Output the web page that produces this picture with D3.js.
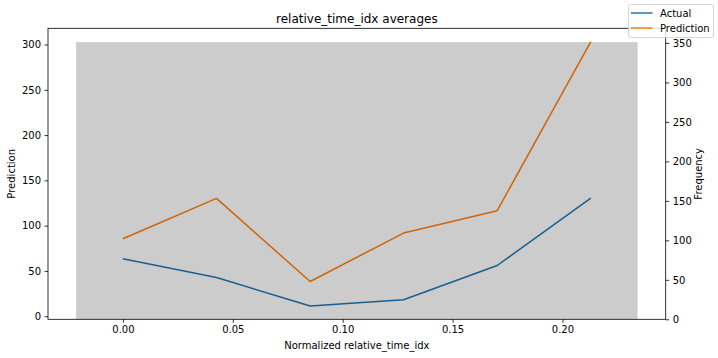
<!DOCTYPE html>
<html>
<head>
<meta charset="utf-8">
<script src="https://cdn.jsdelivr.net/npm/d3@7"></script>
<style>
  body { margin: 0; background: #fff; }
  text { font-family: "DejaVu Sans", sans-serif; fill: #000; }
</style>
</head>
<body>
<script>
// data
var xValues = [0, 0.0426, 0.0852, 0.1277, 0.1703, 0.2129];
var actual = [63.4, 42.8, 11.2, 18.1, 56.0, 130.5];
var prediction = [85.5, 130.1, 38.3, 91.8, 116.5, 303.3];
var binEdges = [-0.0213, 0.2342];
var frequency = [351];
var xTicks = [0, 0.05, 0.10, 0.15, 0.20];
var leftTicks = [0, 50, 100, 150, 200, 250, 300];
var rightTicks = [0, 50, 100, 150, 200, 250, 300, 350];
var seriesNames = ["Actual", "Prediction"];
var seriesColors = ["#1f77b4", "#ff7f0e"];

var W = 718, H = 358;
var margin = {top: 28.3, right: 52.3, bottom: 38.7, left: 48};

var svg = d3.select("body").append("svg")
  .attr("width", W)
  .attr("height", H);

// matplotlib style 5% padding
function pad(lo, hi) {
  var p = (hi - lo) * 0.05;
  return [lo - p, hi + p];
}

var x = d3.scaleLinear()
  .domain(pad(binEdges[0], binEdges[binEdges.length - 1]))
  .range([margin.left, W - margin.right]);

var allY = actual.concat(prediction);
var yLeft = d3.scaleLinear()
  .domain(pad(d3.min(allY), d3.max(allY)))
  .range([H - margin.bottom, margin.top]);

var yRight = d3.scaleLinear()
  .domain([0, d3.max(frequency) * 1.05])
  .range([H - margin.bottom, margin.top]);

var plot = svg.append("g");

// lines first (left axis)
var line = d3.line()
  .x(function (d, i) { return x(xValues[i]); })
  .y(function (d) { return yLeft(d); });

[actual, prediction].forEach(function (s, k) {
  plot.append("path")
    .datum(s)
    .attr("d", line)
    .attr("fill", "none")
    .attr("stroke", seriesColors[k])
    .attr("stroke-width", 1.5)
    .attr("stroke-linejoin", "round");
});

// histogram bar on twin axis, drawn on top with alpha
frequency.forEach(function (f, i) {
  plot.append("rect")
    .attr("x", x(binEdges[i]))
    .attr("y", yRight(f))
    .attr("width", x(binEdges[i + 1]) - x(binEdges[i]))
    .attr("height", yRight(0) - yRight(f))
    .attr("fill", "#000")
    .attr("fill-opacity", 0.2);
});

// axes
function styleAxis(g) {
  g.select(".domain").remove();
  g.selectAll(".tick line").attr("stroke", "#000").attr("stroke-width", 0.8);
  g.selectAll(".tick text").attr("font-size", 10).attr("fill", "#000")
    .style("font-family", "DejaVu Sans, sans-serif");
}

svg.append("g")
  .attr("transform", "translate(0," + (H - margin.bottom) + ")")
  .call(d3.axisBottom(x).tickValues(xTicks).tickFormat(d3.format(".2f"))
    .tickSizeOuter(0).tickSize(3.5).tickPadding(3.5))
  .call(styleAxis);

svg.append("g")
  .attr("transform", "translate(" + margin.left + ",0)")
  .call(d3.axisLeft(yLeft).tickValues(leftTicks).tickFormat(d3.format("d"))
    .tickSizeOuter(0).tickSize(3.5).tickPadding(3.5))
  .call(styleAxis);

svg.append("g")
  .attr("transform", "translate(" + (W - margin.right) + ",0)")
  .call(d3.axisRight(yRight).tickValues(rightTicks).tickFormat(d3.format("d"))
    .tickSizeOuter(0).tickSize(3.5).tickPadding(3.5))
  .call(styleAxis);

// frame
svg.append("rect")
  .attr("x", margin.left)
  .attr("y", margin.top)
  .attr("width", W - margin.left - margin.right)
  .attr("height", H - margin.top - margin.bottom)
  .attr("fill", "none")
  .attr("stroke", "#000")
  .attr("stroke-width", 0.8);

var cx = (margin.left + W - margin.right) / 2;
var cy = (margin.top + H - margin.bottom) / 2;

svg.append("text")
  .attr("x", cx)
  .attr("y", 22.5)
  .attr("text-anchor", "middle")
  .attr("font-size", 12)
  .text("relative_time_idx averages");

svg.append("text")
  .attr("x", cx)
  .attr("y", 348.5)
  .attr("text-anchor", "middle")
  .attr("font-size", 10)
  .text("Normalized relative_time_idx");

svg.append("text")
  .attr("transform", "translate(15," + cy + ") rotate(-90)")
  .attr("text-anchor", "middle")
  .attr("font-size", 10)
  .text("Prediction");

svg.append("text")
  .attr("transform", "translate(702," + cy + ") rotate(-90)")
  .attr("text-anchor", "middle")
  .attr("font-size", 10)
  .text("Frequency");

// legend (figure level, top right)
var lg = svg.append("g").attr("transform", "translate(628.5,4.5)");
lg.append("rect")
  .attr("width", 85)
  .attr("height", 33)
  .attr("rx", 2.5)
  .attr("fill", "#fff")
  .attr("fill-opacity", 0.8)
  .attr("stroke", "#cccccc")
  .attr("stroke-width", 0.8);

seriesNames.forEach(function (name, k) {
  var yy = 8.5 + k * 15;
  lg.append("line")
    .attr("x1", 2.5).attr("x2", 24)
    .attr("y1", yy).attr("y2", yy)
    .attr("stroke", seriesColors[k])
    .attr("stroke-width", 1.5);
  lg.append("text")
    .attr("x", 31.5)
    .attr("y", yy + 3.6)
    .attr("font-size", 10)
    .text(name);
});
</script>
</body>
</html>
